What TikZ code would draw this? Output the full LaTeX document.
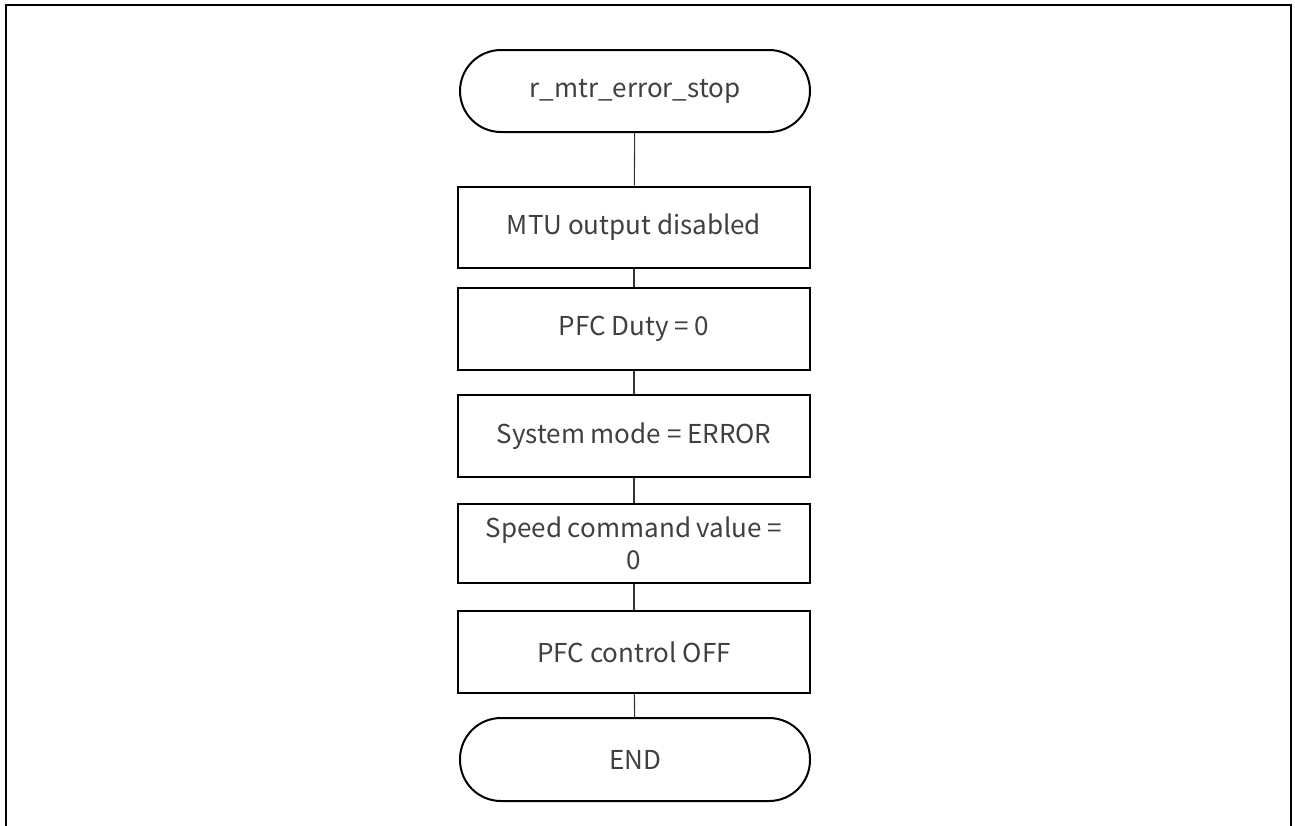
\documentclass[tikz,border=0pt]{standalone}
\usepackage{fontspec}
\setmainfont{Noto Sans CJK JP}
\definecolor{txt}{HTML}{404040}
\begin{document}
\begin{tikzpicture}[x=1pt,y=-1pt,
  every node/.style={font=\fontsize{26}{32}\selectfont, text=txt, align=center, inner sep=0pt},
  proc/.style={draw=black, line width=2pt, minimum width=352pt, minimum height=81pt},
  term/.style={draw=black, line width=2pt, minimum width=350pt, minimum height=82pt, rounded corners=41pt},
  link/.style={draw=black!80, line width=1.1pt}]
\useasboundingbox (0,0) rectangle (1295,825);
\draw[line width=2.5pt] (6,826) -- (6,5) -- (1291,5) -- (1291,826);
\node[term] (start) at (635,91) {r\_mtr\_error\_stop};
\node[proc] (p1) at (634,227) {MTU output disabled};
\node[proc, minimum height=82pt] (p2) at (634,329) {PFC Duty = 0};
\node[proc, minimum height=82pt] (p3) at (634,436) {System mode = ERROR};
\node[proc, minimum height=79pt] (p4) at (634,543.5) {Speed command value =\\0};
\node[proc, minimum height=82pt] (p5) at (634,652) {PFC control OFF};
\node[term, minimum height=83pt] (end) at (635,759.5) {END};
\path[link] (start) -- (p1);
\path[link] (p1) -- (p2);
\path[link] (p2) -- (p3);
\path[link] (p3) -- (p4);
\path[link] (p4) -- (p5);
\path[link] (p5) -- (end);
\end{tikzpicture}
\end{document}
